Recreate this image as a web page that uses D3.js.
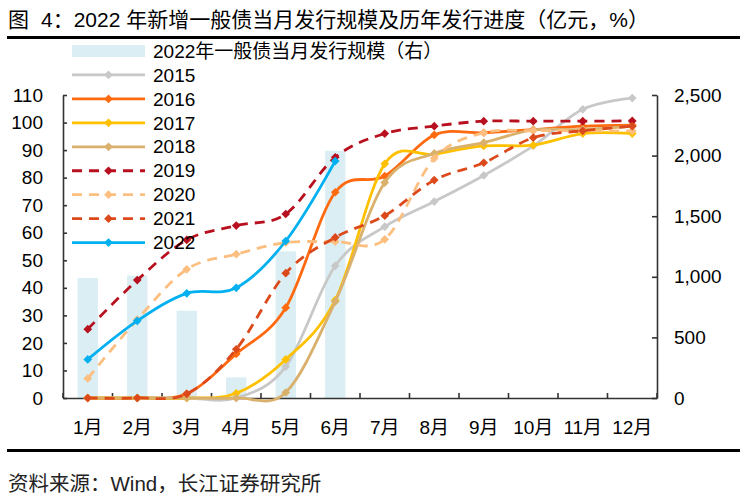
<!DOCTYPE html>
<html>
<head>
<meta charset="utf-8">
<script src="https://cdn.jsdelivr.net/npm/d3@7"></script>
<style>
  body { margin: 0; background: #fff; }
  text { font-family: "Liberation Sans", Arial, "Noto Sans CJK SC", sans-serif; fill: #000; }
</style>
</head>
<body>
<div id="chart"></div>
<script>
const months = ["1月", "2月", "3月", "4月", "5月", "6月", "7月", "8月", "9月", "10月", "11月", "12月"];
const leftTicks = [0, 10, 20, 30, 40, 50, 60, 70, 80, 90, 100, 110];
const rightTicks = [0, 500, 1000, 1500, 2000, 2500];

// 2022年一般债当月发行规模 (亿元, 右轴)
const issue2022 = [990, 1010, 720, 170, 1210, 2040];

// 历年发行进度 (%)
const p2015 = [0, 0, 0, 0, 11.4, 48, 62.2, 71.3, 80.8, 91.5, 104.8, 108.9];
const p2016 = [0, 0, 1.5, 16, 32.8, 74.7, 80.6, 95.5, 96.3, 97.4, 98.7, 99.1];
const p2017 = [0, 0, 0, 1.7, 14, 35.5, 85, 88.5, 91.5, 91.8, 96, 96];
const p2018 = [0, 0, 0, 0, 2, 35, 78.2, 88.8, 92.7, 97.3, 97.5, 98.7];
const p2019 = [25, 42.8, 57.4, 62.6, 66.8, 87.4, 96, 98.7, 100.5, 100.5, 100.5, 100.6];
const p2020 = [7.1, 28.5, 46.7, 52.2, 56.4, 56.8, 57.6, 87, 96.3, 97, 97, 97];
const p2021 = [0, 0, 1.5, 17.7, 45.3, 58.3, 66.2, 79.1, 85.4, 94.5, 97, 98.7];
const p2022 = [14, 28, 38, 40, 57, 86];

const series = [
  { name: "2015", values: p2015, color: "#c8c8c8", dash: null },
  { name: "2016", values: p2016, color: "#ff6a10", dash: null },
  { name: "2017", values: p2017, color: "#ffc000", dash: null },
  { name: "2018", values: p2018, color: "#d9b06c", dash: null },
  { name: "2019", values: p2019, color: "#b8101e", dash: "10,7" },
  { name: "2020", values: p2020, color: "#fcbf80", dash: "10,7" },
  { name: "2021", values: p2021, color: "#dc4a1c", dash: "10,7" },
  { name: "2022", values: p2022, color: "#00b0f0", dash: null }
];

const W = 747, H = 503;
const plot = { left: 63, right: 657, top: 95, bottom: 398 };

const svg = d3.select("#chart").append("svg")
  .attr("width", W).attr("height", H);

// title + rules
const title = svg.append("text")
  .attr("x", 8).attr("y", 27)
  .style("font-size", "21px");
title.append("tspan").text("图");
title.append("tspan").attr("dx", 12).text("4：2022 年新增一般债当月发行规模及历年发行进度（亿元，%）");

svg.append("line")
  .attr("x1", 7).attr("x2", 740).attr("y1", 37.5).attr("y2", 37.5)
  .attr("stroke", "#000").attr("stroke-width", 3);
svg.append("line")
  .attr("x1", 7).attr("x2", 740).attr("y1", 450.5).attr("y2", 450.5)
  .attr("stroke", "#000").attr("stroke-width", 3);
svg.append("text")
  .attr("x", 8).attr("y", 491)
  .style("font-size", "20.5px")
  .style("fill", "#222")
  .text("资料来源：Wind，长江证券研究所");

const x = d3.scaleBand().domain(months).range([plot.left, plot.right]).padding(0);
const yL = d3.scaleLinear().domain([0, 110]).range([plot.bottom, plot.top]);
const yR = d3.scaleLinear().domain([0, 2500]).range([plot.bottom, plot.top]);
const cx = m => x(m) + x.bandwidth() / 2;

// bars
const barW = x.bandwidth() * 0.41;
svg.append("g").selectAll("rect")
  .data(issue2022)
  .join("rect")
  .attr("x", (d, i) => cx(months[i]) - barW / 2)
  .attr("y", d => yR(d))
  .attr("width", barW)
  .attr("height", d => yR(0) - yR(d))
  .attr("fill", "#daeef3");

// axes
const axisColor = "#333";
const gL = svg.append("g")
  .attr("transform", `translate(${plot.left},0)`)
  .call(d3.axisLeft(yL).tickValues(leftTicks).tickSize(-4).tickPadding(20).tickSizeOuter(0));
const gR = svg.append("g")
  .attr("transform", `translate(${plot.right},0)`)
  .call(d3.axisRight(yR).tickValues(rightTicks).tickSize(-5).tickPadding(17).tickSizeOuter(0)
    .tickFormat(d3.format(",")));
const gB = svg.append("g")
  .attr("transform", `translate(0,${plot.bottom})`)
  .call(d3.axisBottom(x).tickSize(0).tickPadding(23).tickSizeOuter(0));

// category boundary ticks on the x axis
const bounds = months.map(m => x(m)).concat([plot.right]);
gB.selectAll(".bound")
  .data(bounds)
  .join("line")
  .attr("class", "bound")
  .attr("x1", d => d).attr("x2", d => d)
  .attr("y1", 0).attr("y2", -5);

[gL, gR, gB].forEach(g => {
  g.selectAll("path.domain").attr("stroke", axisColor).attr("stroke-width", 1.6);
  g.selectAll("line").attr("stroke", axisColor).attr("stroke-width", 1.6);
  g.selectAll("text").style("font-size", "19px").style("font-family", null).attr("fill", "#000");
});

// lines
const line = d3.line()
  .x((d, i) => cx(months[i]))
  .y(d => yL(d))
  .curve(d3.curveCatmullRom.alpha(0));

const marker = d3.symbol().type(d3.symbolSquare).size(38);

series.forEach(s => {
  const g = svg.append("g");
  g.append("path")
    .datum(s.values)
    .attr("d", line)
    .attr("fill", "none")
    .attr("stroke", s.color)
    .attr("stroke-width", 2.8)
    .attr("stroke-dasharray", s.dash);
  g.selectAll("path.pt")
    .data(s.values)
    .join("path")
    .attr("class", "pt")
    .attr("d", marker)
    .attr("transform", (d, i) => `translate(${cx(months[i])},${yL(d)}) rotate(45)`)
    .attr("fill", s.color);
});

// legend
const legend = svg.append("g");
const lgX0 = 72, lgX1 = 145, lgTextX = 153, lgY0 = 51, lgStep = 23.95;
legend.append("rect")
  .attr("x", lgX0).attr("y", lgY0 - 6)
  .attr("width", lgX1 - lgX0).attr("height", 12)
  .attr("fill", "#daeef3");
legend.append("text")
  .attr("x", lgTextX).attr("y", lgY0).attr("dy", "0.35em")
  .style("font-size", "19px")
  .text("2022年一般债当月发行规模（右）");

series.forEach((s, i) => {
  const y = lgY0 + lgStep * (i + 1);
  legend.append("line")
    .attr("x1", lgX0).attr("x2", lgX1).attr("y1", y).attr("y2", y)
    .attr("stroke", s.color).attr("stroke-width", 2.8)
    .attr("stroke-dasharray", s.dash);
  legend.append("path")
    .attr("d", marker)
    .attr("transform", `translate(${(lgX0 + lgX1) / 2},${y}) rotate(45)`)
    .attr("fill", s.color);
  legend.append("text")
    .attr("x", lgTextX).attr("y", y).attr("dy", "0.35em")
    .style("font-size", "19px")
    .text(s.name);
});
</script>
</body>
</html>
